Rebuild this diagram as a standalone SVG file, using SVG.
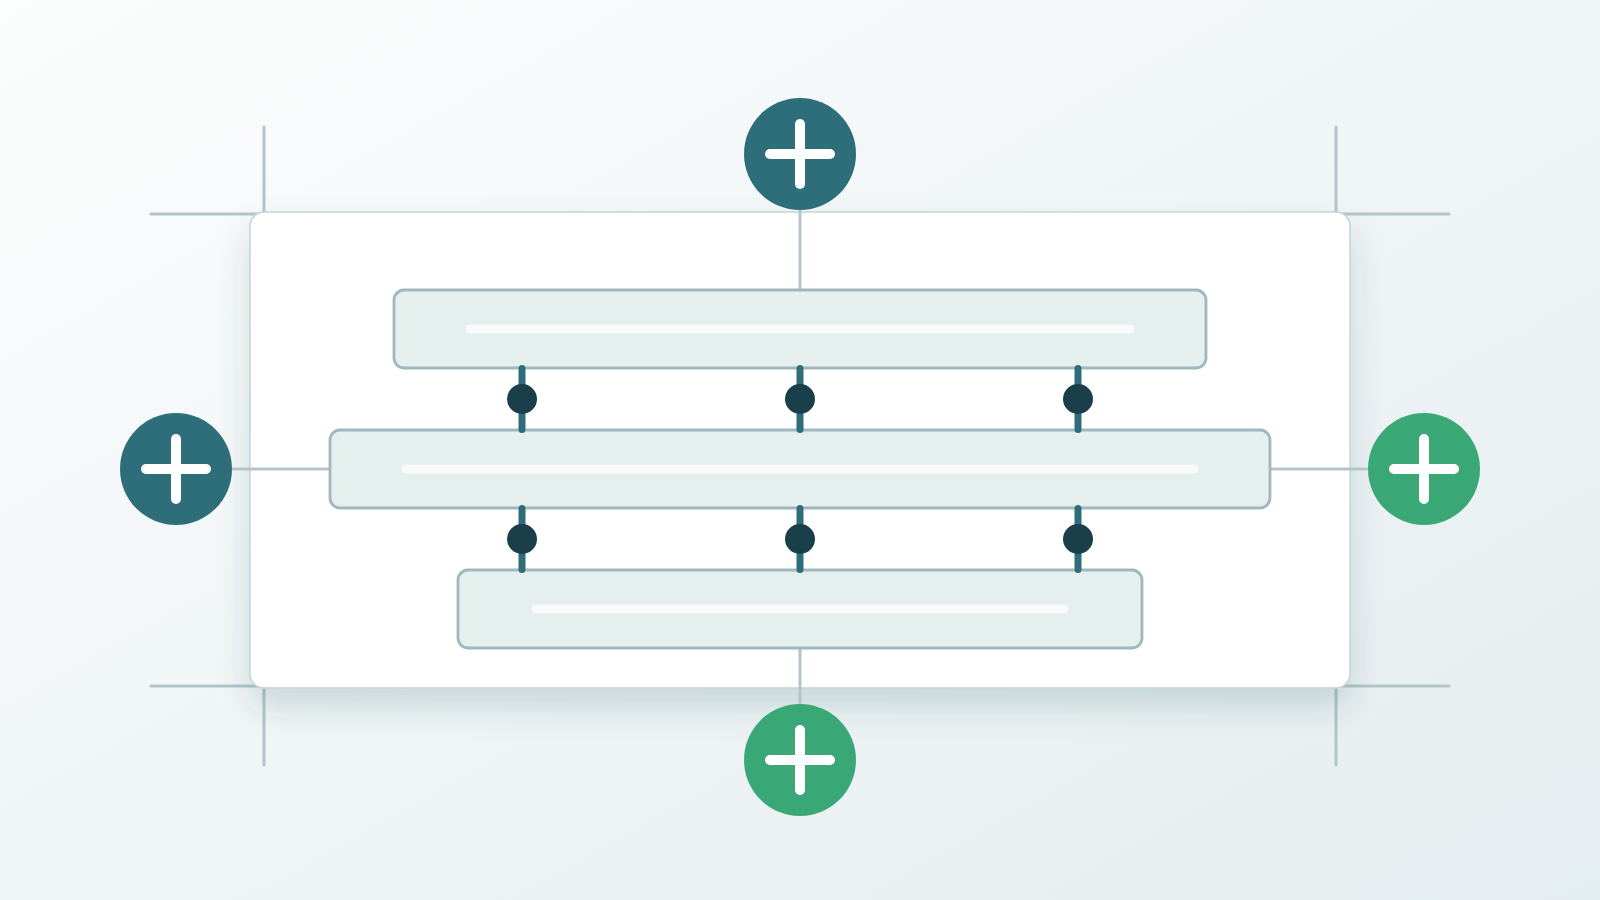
<svg xmlns="http://www.w3.org/2000/svg" width="1600" height="900" viewBox="0 0 1600 900">
  <defs>
    <linearGradient id="bg" x1="0" y1="0" x2="1" y2="1">
      <stop offset="0" stop-color="#fcfdfd"/>
      <stop offset="1" stop-color="#e4edef"/>
    </linearGradient>
    <filter id="shadow" x="-10%" y="-10%" width="120%" height="130%">
      <feGaussianBlur in="SourceAlpha" stdDeviation="16"/>
      <feOffset dy="18" result="b"/>
      <feFlood flood-color="#1a3f4a" flood-opacity="0.16"/>
      <feComposite in2="b" operator="in"/>
      <feMerge><feMergeNode/><feMergeNode in="SourceGraphic"/></feMerge>
    </filter>
    <style>
      .mark{stroke:#b2c5ca;stroke-width:3;stroke-linecap:round;fill:none}
      .bar{fill:#e5efee;stroke:#9fb8bd;stroke-width:2.8}
      .ph{stroke:#f9fbfb;stroke-width:9;stroke-linecap:round}
      .link{stroke:#b3c5ca;stroke-width:3;fill:none}
      .stub{stroke:#2e6e7a;stroke-width:7;stroke-linecap:round}
      .dot{fill:#1a3f4a}
      .teal{fill:#2e6e7a}
      .green{fill:#3aa876}
      .plus{stroke:#ffffff;stroke-width:10;stroke-linecap:round}
    </style>
  </defs>
  <rect width="1600" height="900" fill="url(#bg)"/>

  <g id="corner-marks">
    <line class="mark" x1="151" y1="214" x2="264" y2="214"/>
    <line class="mark" x1="264" y1="127" x2="264" y2="214"/>
    <line class="mark" x1="1336" y1="214" x2="1449" y2="214"/>
    <line class="mark" x1="1336" y1="127" x2="1336" y2="214"/>
    <line class="mark" x1="151" y1="686" x2="264" y2="686"/>
    <line class="mark" x1="264" y1="686" x2="264" y2="765"/>
    <line class="mark" x1="1336" y1="686" x2="1449" y2="686"/>
    <line class="mark" x1="1336" y1="686" x2="1336" y2="765"/>
  </g>

  <g id="panel">
    <rect x="250" y="212" width="1100" height="476" rx="14" fill="#ffffff" stroke="#c5d4d8" stroke-width="1.5" filter="url(#shadow)"/>
  </g>

  <g id="connectors">
    <line class="link" x1="800" y1="210" x2="800" y2="290"/>
    <line class="link" x1="800" y1="648" x2="800" y2="704"/>
    <line class="link" x1="232" y1="469" x2="330" y2="469"/>
    <line class="link" x1="1270" y1="469" x2="1368" y2="469"/>
  </g>

  <g id="bar-top">
    <rect class="bar" x="394" y="290" width="812" height="78" rx="10"/>
    <line class="ph" x1="470" y1="329" x2="1130" y2="329"/>
  </g>
  <g id="bar-middle">
    <rect class="bar" x="330" y="430" width="940" height="78" rx="10"/>
    <line class="ph" x1="406" y1="469" x2="1194" y2="469"/>
  </g>
  <g id="bar-bottom">
    <rect class="bar" x="458" y="570" width="684" height="78" rx="10"/>
    <line class="ph" x1="536" y1="609" x2="1064" y2="609"/>
  </g>

  <g id="joints">
    <line class="stub" x1="522" y1="368.5" x2="522" y2="429.5"/>
    <line class="stub" x1="800" y1="368.5" x2="800" y2="429.5"/>
    <line class="stub" x1="1078" y1="368.5" x2="1078" y2="429.5"/>
    <circle class="dot" cx="522" cy="399" r="15"/>
    <circle class="dot" cx="800" cy="399" r="15"/>
    <circle class="dot" cx="1078" cy="399" r="15"/>
    <line class="stub" x1="522" y1="508.5" x2="522" y2="569.5"/>
    <line class="stub" x1="800" y1="508.5" x2="800" y2="569.5"/>
    <line class="stub" x1="1078" y1="508.5" x2="1078" y2="569.5"/>
    <circle class="dot" cx="522" cy="539" r="15"/>
    <circle class="dot" cx="800" cy="539" r="15"/>
    <circle class="dot" cx="1078" cy="539" r="15"/>
  </g>

  <g id="add-top">
    <circle class="teal" cx="800" cy="154" r="56"/>
    <line class="plus" x1="770" y1="154" x2="830" y2="154"/>
    <line class="plus" x1="800" y1="124" x2="800" y2="184"/>
  </g>
  <g id="add-left">
    <circle class="teal" cx="176" cy="469" r="56"/>
    <line class="plus" x1="146" y1="469" x2="206" y2="469"/>
    <line class="plus" x1="176" y1="439" x2="176" y2="499"/>
  </g>
  <g id="add-right">
    <circle class="green" cx="1424" cy="469" r="56"/>
    <line class="plus" x1="1394" y1="469" x2="1454" y2="469"/>
    <line class="plus" x1="1424" y1="439" x2="1424" y2="499"/>
  </g>
  <g id="add-bottom">
    <circle class="green" cx="800" cy="760" r="56"/>
    <line class="plus" x1="770" y1="760" x2="830" y2="760"/>
    <line class="plus" x1="800" y1="730" x2="800" y2="790"/>
  </g>
</svg>
